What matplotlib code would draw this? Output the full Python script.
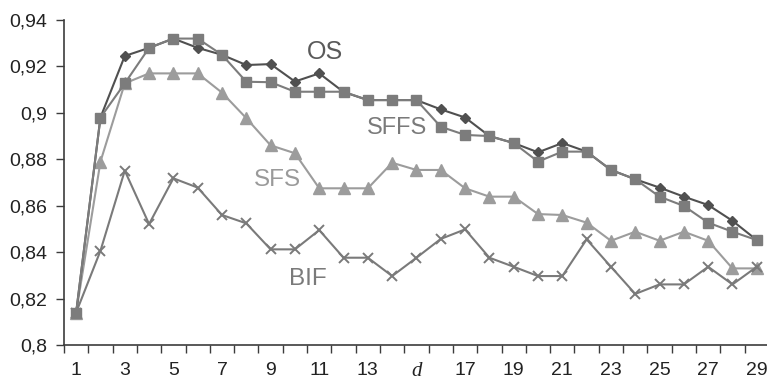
import matplotlib
matplotlib.use("Agg")
import matplotlib.pyplot as plt
from matplotlib.ticker import FixedLocator, NullFormatter

# ---- data ----
categories = list(range(1, 30))
os_vals = [0.814, 0.898, 0.9245, 0.928, 0.932, 0.928, 0.925, 0.9206, 0.921, 0.9135,
           0.917, 0.909, 0.9055, 0.9055, 0.9055, 0.9015, 0.898, 0.890, 0.887, 0.883,
           0.887, 0.8833, 0.8754, 0.8714, 0.8678, 0.8639, 0.8603, 0.8535, 0.8452]
sffs_vals = [0.814, 0.898, 0.9127, 0.928, 0.932, 0.932, 0.925, 0.9134, 0.9132, 0.9091,
             0.9091, 0.9091, 0.9055, 0.9055, 0.9055, 0.894, 0.8905, 0.890, 0.887, 0.879,
             0.8833, 0.8833, 0.8754, 0.8714, 0.8639, 0.8599, 0.8527, 0.8488, 0.8452]
sfs_vals = [0.814, 0.879, 0.9127, 0.917, 0.917, 0.917, 0.9087, 0.8977, 0.886, 0.8826,
            0.8675, 0.8675, 0.8675, 0.8785, 0.8754, 0.8754, 0.8675, 0.8639, 0.8639, 0.8564,
            0.856, 0.8527, 0.8449, 0.8488, 0.8449, 0.8488, 0.8449, 0.833, 0.833]
bif_vals = [0.814, 0.8406, 0.8751, 0.8521, 0.8718, 0.8678, 0.856, 0.8524, 0.8412, 0.8412,
            0.8495, 0.8376, 0.8376, 0.8297, 0.8376, 0.8457, 0.8498, 0.8376, 0.8337, 0.8297,
            0.8297, 0.8455, 0.8337, 0.822, 0.8261, 0.8261, 0.8337, 0.8261, 0.8337]
x_label_positions = [1, 3, 5, 7, 9, 11, 13, 15, 17, 19, 21, 23, 25, 27, 29]
x_tick_labels = ["1", "3", "5", "7", "9", "11", "13", "d", "17", "19", "21", "23", "25", "27", "29"]
y_ticks = [0.80, 0.82, 0.84, 0.86, 0.88, 0.90, 0.92, 0.94]
y_tick_labels = ["0,8", "0,82", "0,84", "0,86", "0,88", "0,9", "0,92", "0,94"]
series_names = ["OS", "SFFS", "SFS", "BIF"]

plt.rcParams['font.family'] = ['Liberation Sans', 'DejaVu Sans']

fig = plt.figure(figsize=(7.67, 3.83), dpi=100)
ax = fig.add_axes([64/767, 38/383, 703/767, 325/383])

axis_col = "#3c3c3c"
c_os, c_sffs, c_sfs, c_bif = "#505050", "#7c7c7c", "#9c9c9c", "#7a7a7a"

ax.plot(categories, sfs_vals, color=c_sfs, lw=1.5, marker="^", ms=8,
        mfc=c_sfs, mec=c_sfs, zorder=2)
ax.plot(categories, bif_vals, color=c_bif, lw=1.5, marker="x", ms=7.5,
        mew=1.4, mec=c_bif, zorder=3)
ax.plot(categories, os_vals, color=c_os, lw=1.5, marker="D", ms=5,
        mfc=c_os, mec=c_os, zorder=4)
ax.plot(categories, sffs_vals, color=c_sffs, lw=1.5, marker="s", ms=7,
        mfc=c_sffs, mec=c_sffs, zorder=5)

ax.set_xlim(0.5, 29.42)
ax.set_ylim(0.8, 0.94)

# category-style ticks between categories, labels at odd categories
ax.xaxis.set_major_locator(FixedLocator([i + 0.5 for i in range(0, 30)]))
ax.xaxis.set_major_formatter(NullFormatter())
ax.xaxis.set_minor_locator(FixedLocator(x_label_positions))
ax.set_xticklabels(x_tick_labels, minor=True)
ax.tick_params(axis="x", which="major", direction="out", length=6, width=1.0, color=axis_col)
ax.tick_params(axis="x", which="minor", length=0, pad=12, labelsize=14, labelcolor="#222222")
for lbl in ax.xaxis.get_minorticklabels():
    if lbl.get_text() == "d":
        lbl.set_fontfamily("Liberation Serif")
        lbl.set_fontstyle("italic")
        lbl.set_fontsize(15)

ax.set_yticks(y_ticks)
ax.set_yticklabels(y_tick_labels)
ax.tick_params(axis="y", direction="out", length=6, width=1.0, color=axis_col,
               labelsize=14, labelcolor="#222222", pad=6)

for s in ["top", "right"]:
    ax.spines[s].set_visible(False)
for s in ["left", "bottom"]:
    ax.spines[s].set_color(axis_col)
    ax.spines[s].set_linewidth(1.2)

# series labels
ax.text(11.22, 0.9232, series_names[0], ha="center", va="baseline", fontsize=18, color="#5a5a5a")
ax.text(14.2, 0.8909, series_names[1], ha="center", va="baseline", fontsize=17, color="#7a7a7a")
ax.text(9.29, 0.8685, series_names[2], ha="center", va="baseline", fontsize=17.5, color="#9a9a9a")
ax.text(10.52, 0.8258, series_names[3], ha="center", va="baseline", fontsize=17.5, color="#7a7a7a")

fig.savefig("out.png", dpi=100, facecolor="white")
